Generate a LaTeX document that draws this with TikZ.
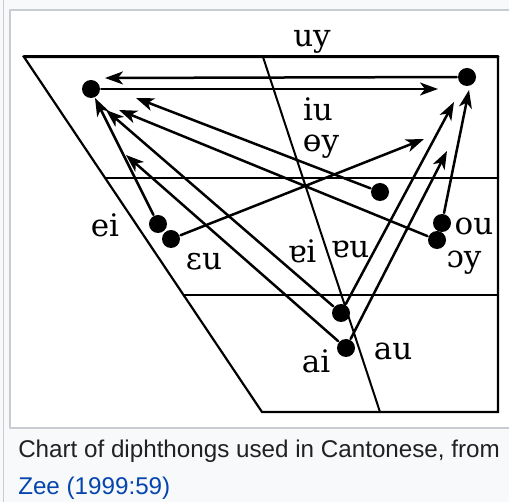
\documentclass[tikz,border=0pt]{standalone}
\usepackage{fontspec}
\setmainfont{DejaVu Serif}
\newfontfamily\didascalia{Liberation Sans}
\usetikzlibrary{arrows.meta}
\definecolor{sfondo}{HTML}{F8F9FA}
\definecolor{bordo}{HTML}{C8CCD1}
\definecolor{collegamento}{HTML}{0645AD}
\definecolor{testo}{HTML}{202122}
\tikzset{
  punto/.style={circle, fill=black, inner sep=0pt, minimum size=18pt},
  freccia/.style={-{Stealth[length=18pt, width=13pt, inset=5pt]}},
  etichetta/.style={anchor=base, inner sep=0pt, font=\fontsize{31}{31}\selectfont},
}
\begin{document}
\begin{tikzpicture}[x=1pt, y=-1pt, line width=2.5pt, line cap=round, line join=round]
        \useasboundingbox (0,0) rectangle (509,502);

        % Cornice della miniatura
        \fill[sfondo] (0,0) rectangle (509,502);
        \draw[bordo, line width=1pt] (3,0) -- (3,502);
        \filldraw[fill=white, draw=bordo, line width=1.5pt] (10,10) rectangle (520,428);

        % Trapezio vocalico: contorno, due divisioni orizzontali e linea centrale
        \draw[line width=2.2pt, line join=miter] (24,57) -- (498,57) -- (498,412) -- (262,412) -- cycle;
        \draw[line width=3pt] (24,57) -- (498,57);
        \draw[line width=2pt] (105,178) -- (498,178);
        \draw[line width=2pt] (184,295) -- (498,295);
        \draw[line width=2pt] (263,57) -- (380,412);

        % Vocali di partenza e di arrivo
        \node[punto] (i) at (91,89) {};
        \node[punto] (u) at (467,77) {};
        \node[punto] (oe) at (380,192) {};
        \node[punto] (e) at (158,224) {};
        \node[punto] (eps) at (171,239) {};
        \node[punto] (o) at (442,223) {};
        \node[punto] (oo) at (437,240) {};
        \node[punto] (ae) at (341,313) {};
        \node[punto] (a) at (346,348) {};

        % Punte delle frecce
        \coordinate (fine-uy) at (105,78);
        \coordinate (fine-iu) at (438,89);
        \coordinate (fine-ei) at (95,98);
        \coordinate (fine-eu) at (424,139);
        \coordinate (fine-oey) at (136,98);
        \coordinate (fine-oy) at (119,110);
        \coordinate (fine-aei) at (106,110);
        \coordinate (fine-ai) at (126,155);
        \coordinate (fine-aeu) at (454,102);
        \coordinate (fine-au) at (447,151);
        \coordinate (fine-ou) at (469,90);

        % Dittonghi
        \draw[freccia] (u) -- (fine-uy);
        \draw[freccia] (i) -- (fine-iu);
        \draw[freccia] (e) -- (fine-ei);
        \draw[freccia] (eps) -- (fine-eu);
        \draw[freccia] (oe) -- (fine-oey);
        \draw[freccia] (oo) -- (fine-oy);
        \draw[freccia] (ae) -- (fine-aei);
        \draw[freccia] (a) -- (fine-ai);
        \draw[freccia] (ae) -- (fine-aeu);
        \draw[freccia] (a) -- (fine-au);
        \draw[freccia] (o) -- (fine-ou);

        % Etichette
        \node[etichetta] (l-uy) at (312,47) {uy};
        \node[etichetta] (l-iu) at (318,121) {iu};
        \node[etichetta] (l-oey) at (321,152) {ɵy};
        \node[etichetta] (l-ei) at (105,237) {ei};
        \node[etichetta] (l-eu) at (204,270) {ɛu};
        \node[etichetta] (l-aei) at (302,263) {ɐi};
        \node[etichetta] (l-aeu) at (350,258) {ɐu};
        \node[etichetta] (l-ou) at (474,235) {ou};
        \node[etichetta] (l-oy) at (464,268) {ɔy};
        \node[etichetta] (l-ai) at (316,373) {ai};
        \node[etichetta] (l-au) at (393,360) {au};

        % Didascalia
        \node[anchor=base west, inner sep=0pt, text=testo, font=\didascalia\fontsize{24.2}{24.2}\selectfont] (didascalia) at (17,458) {Chart of diphthongs used in Cantonese, from};
        \node[anchor=base west, inner sep=0pt, text=collegamento, font=\didascalia\fontsize{24.2}{24.2}\selectfont] (fonte) at (17,494) {Zee (1999:59)};
    \end{tikzpicture}
\end{document}
